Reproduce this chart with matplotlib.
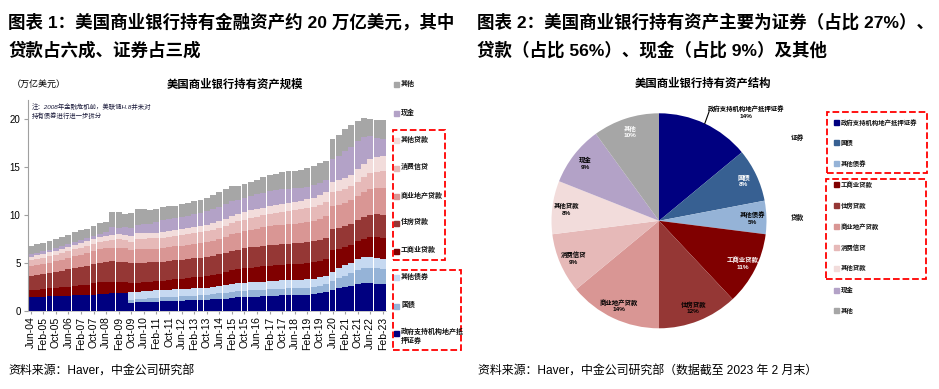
import numpy as np
import matplotlib
matplotlib.use("Agg")
from matplotlib import pyplot as plt
from matplotlib.patches import Rectangle

plt.rcParams["font.family"] = ["Liberation Sans", "Noto Sans CJK SC", "DejaVu Sans"]

W, H = 939, 389

# one bar every 4 months, Jun-04 ... Feb-23 (x = months since Jun-04)
months = np.arange(0, 225, 4)
tick_labels = ["Jun-04", "Feb-05", "Oct-05", "Jun-06", "Feb-07", "Oct-07", "Jun-08",
               "Feb-09", "Oct-09", "Jun-10", "Feb-11", "Oct-11", "Jun-12", "Feb-13",
               "Oct-13", "Jun-14", "Feb-15", "Oct-15", "Jun-16", "Feb-17", "Oct-17",
               "Jun-18", "Feb-19", "Oct-19", "Jun-20", "Feb-21", "Oct-21", "Jun-22",
               "Feb-23"]

# trillion USD, stacked from bottom
mbs = [1.45, 1.47, 1.5, 1.52, 1.54, 1.56, 1.6, 1.62, 1.64, 1.66, 1.7, 1.73, 1.75,
       1.85, 1.88, 1.9,
       0.88, 0.9, 0.92, 0.95, 0.98, 1.0, 1.03, 1.06, 1.08, 1.1, 1.13, 1.15, 1.17,
       1.2, 1.25, 1.3, 1.38, 1.42, 1.45, 1.48, 1.5, 1.53, 1.56, 1.6, 1.63, 1.66,
       1.68, 1.7, 1.72, 1.76, 1.85, 1.95, 2.15, 2.35, 2.5, 2.65, 2.8, 2.9, 2.9,
       2.85, 2.8]
treasury = [0] * 16 + [
    0.3, 0.33, 0.36, 0.38, 0.4, 0.42, 0.44, 0.45, 0.46, 0.47, 0.48, 0.5, 0.52,
    0.55, 0.58, 0.6, 0.63, 0.65, 0.66, 0.67, 0.68, 0.69, 0.7, 0.7, 0.7, 0.7, 0.7,
    0.71, 0.72, 0.75, 0.8, 0.85, 1.0, 1.1, 1.2, 1.3, 1.45, 1.55, 1.6, 1.6, 1.6]
other_bonds = [0] * 16 + [
    0.8, 0.8, 0.8, 0.8, 0.78, 0.78, 0.77, 0.76, 0.76, 0.76, 0.76, 0.76, 0.76,
    0.76, 0.77, 0.78, 0.8, 0.8, 0.82, 0.83, 0.84, 0.85, 0.86, 0.87, 0.87, 0.87,
    0.86, 0.86, 0.86, 0.86, 0.87, 0.88, 0.95, 1.0, 1.05, 1.1, 1.15, 1.15, 1.1,
    1.05, 1.0]
ci_loans = [0.75, 0.77, 0.8, 0.83, 0.86, 0.9, 0.95, 1.0, 1.05, 1.1, 1.17, 1.25, 1.3,
            1.22, 1.17, 1.1, 0.95, 0.92, 0.9, 0.9, 0.92, 0.95, 0.98, 1.02, 1.06, 1.1,
            1.13, 1.16, 1.19, 1.22, 1.28, 1.35, 1.42, 1.47, 1.52, 1.55, 1.57, 1.58,
            1.59, 1.6, 1.61, 1.62, 1.63, 1.65, 1.68, 1.7, 1.72, 1.75, 2.3, 2.05, 1.95,
            1.85, 1.85, 1.95, 2.1, 2.2, 2.2]
resid_loans = [1.45, 1.5, 1.55, 1.6, 1.66, 1.72, 1.78, 1.84, 1.9, 1.96, 2.02, 2.07,
               2.1, 2.1, 2.1, 2.1, 2.05, 2.05, 2.05, 2.03, 2.02, 2.0, 2.0, 2.0, 2.0,
               2.0, 2.0, 2.0, 2.0, 2.02, 2.03, 2.04, 2.05, 2.07, 2.09, 2.1, 2.12,
               2.14, 2.15, 2.16, 2.17, 2.17, 2.17, 2.17, 2.17, 2.18, 2.18, 2.2, 2.2,
               2.2, 2.2, 2.22, 2.25, 2.3, 2.35, 2.38, 2.4]
cre_loans = [1.0, 1.03, 1.06, 1.1, 1.14, 1.18, 1.22, 1.26, 1.3, 1.34, 1.38, 1.4, 1.42,
             1.45, 1.47, 1.45, 1.42, 1.42, 1.4, 1.4, 1.4, 1.41, 1.42, 1.44, 1.46,
             1.48, 1.51, 1.54, 1.57, 1.6, 1.64, 1.68, 1.72, 1.76, 1.8, 1.84, 1.88,
             1.92, 1.96, 1.99, 2.02, 2.05, 2.08, 2.11, 2.14, 2.18, 2.22, 2.26, 2.3,
             2.33, 2.37, 2.42, 2.48, 2.55, 2.65, 2.73, 2.8]
consumer = [0.65, 0.66, 0.66, 0.67, 0.68, 0.68, 0.69, 0.7, 0.71, 0.72, 0.74, 0.76,
            0.78, 0.82, 0.85, 0.85, 0.84, 1.12, 1.12, 1.11, 1.1, 1.1, 1.1, 1.1, 1.1,
            1.1, 1.11, 1.11, 1.12, 1.13, 1.14, 1.15, 1.17, 1.18, 1.2, 1.23, 1.25,
            1.28, 1.3, 1.32, 1.34, 1.37, 1.39, 1.4, 1.42, 1.44, 1.46, 1.49, 1.5,
            1.46, 1.47, 1.48, 1.52, 1.58, 1.64, 1.7, 1.76, 1.8][:57]
other_loans = [0.35, 0.36, 0.37, 0.38, 0.39, 0.4, 0.41, 0.43, 0.45, 0.47, 0.49, 0.5,
               0.5, 0.5, 0.52, 0.52, 0.53, 0.55, 0.55, 0.56, 0.57, 0.58, 0.59, 0.6,
               0.61, 0.62, 0.63, 0.64, 0.65, 0.67, 0.7, 0.72, 0.75, 0.76, 0.77, 0.78,
               0.79, 0.8, 0.82, 0.83, 0.85, 0.87, 0.89, 0.91, 0.93, 0.95, 0.97, 1.0,
               1.1, 1.12, 1.15, 1.2, 1.28, 1.38, 1.48, 1.55, 1.6]
cash = [0.25, 0.26, 0.27, 0.28, 0.28, 0.29, 0.3, 0.31, 0.32, 0.33, 0.35, 0.37, 0.4,
        0.78, 0.7, 0.8, 0.9, 0.92, 0.92, 0.95, 1.15, 1.25, 1.25, 1.28, 1.3, 1.32,
        1.35, 1.4, 1.45, 1.48, 1.5, 1.5, 1.5, 1.5, 1.5, 1.52, 1.55, 1.55, 1.52, 1.5,
        1.48, 1.45, 1.4, 1.35, 1.3, 1.28, 1.3, 1.32, 2.4, 2.6, 2.8, 2.9, 2.9, 2.8,
        2.4, 2.0, 1.8]
other_assets = [0.9, 0.9, 0.89, 0.92, 0.95, 0.97, 1.0, 1.04, 1.03, 1.02, 1.05, 1.12,
                1.05, 1.58, 1.61, 1.38, 1.53, 1.59, 1.58, 1.42, 1.28, 1.31, 1.32,
                1.29, 1.37, 1.34, 1.4, 1.33, 1.36, 1.46, 1.5, 1.6, 1.57, 1.47, 1.46,
                1.48, 1.49, 1.64, 1.72, 1.71, 1.8, 1.82, 1.79, 1.82, 1.94, 1.98, 2.1,
                1.99, 2.05, 2.1, 2.3, 2.3, 2.15, 1.95, 1.8, 1.9, 2.0]

series_names = ["政府支持机构地产抵押证券", "国债", "其他债券", "工商业贷款", "住房贷款",
                "商业地产贷款", "消费信贷", "其他贷款", "现金", "其他"]
series_values = [mbs, treasury, other_bonds, ci_loans, resid_loans, cre_loans,
                 consumer, other_loans, cash, other_assets]
bar_colors = ["#000080", "#95B3D7", "#C6D9F1", "#800000", "#953735", "#D99694",
              "#E6B9B8", "#F2DCDB", "#B3A2C7", "#A6A6A6"]

# pie: Feb-23 structure, %
pie_shares = [14, 8, 5, 11, 12, 14, 9, 8, 9, 10]
pie_colors = ["#000080", "#376092", "#95B3D7", "#800000", "#953735", "#D99694",
              "#E6B9B8", "#F2DCDB", "#B3A2C7", "#A6A6A6"]
pie_text_colors = ["black", "white", "black", "white", "black", "black", "black",
                   "black", "black", "white"]


def fx(x):
    return x / W


def fy(y):
    return 1 - y / H


fig = plt.figure(figsize=(W / 100, H / 100), dpi=100)
fig.patch.set_facecolor("white")

# ---- titles and sources
title_kw = dict(fontsize=12.6, fontweight="bold", va="center", ha="left")
fig.text(fx(8), fy(22), "图表 1：美国商业银行持有金融资产约 20 万亿美元，其中", **title_kw)
fig.text(fx(8), fy(50), "贷款占六成、证券占三成", **title_kw)
fig.text(fx(477), fy(22), "图表 2：美国商业银行持有资产主要为证券（占比 27%）、", **title_kw)
fig.text(fx(477), fy(50), "贷款（占比 56%）、现金（占比 9%）及其他", **title_kw)
fig.text(fx(8), fy(372), "资料来源：Haver，中金公司研究部", fontsize=8.6, va="center")
fig.text(fx(478), fy(372), "资料来源：Haver，中金公司研究部（数据截至 2023 年 2 月末）",
         fontsize=8.6, va="center")

# ---- left: stacked bars
ax = fig.add_axes([fx(27.5), fy(311), fx(386) - fx(27.5), fy(100) - fy(311)])
bottom = np.zeros(len(months))
for vals, color in zip(series_values, bar_colors):
    vals = np.array(vals, dtype=float)
    ax.bar(months, vals, width=3.75, bottom=bottom, color=color, linewidth=0)
    bottom += vals
ax.set_xlim(-2, 226)
ax.set_ylim(0, 22)
ax.set_yticks([0, 5, 10, 15, 20])
ax.set_xticks(months[::2])
ax.set_xticklabels(tick_labels, rotation=90, fontsize=7.5)
ax.tick_params(axis="y", labelsize=7, length=3, color="#A0A0A0", pad=2)
ax.tick_params(axis="x", length=2, color="#A0A0A0", pad=2)
for s in ["top", "right"]:
    ax.spines[s].set_visible(False)
ax.spines["left"].set_color("#A0A0A0")
ax.spines["bottom"].set_color("#C0C0C0")
ax.spines["bottom"].set_linewidth(0.6)

fig.text(fx(12), fy(84), "（万亿美元）", fontsize=6.5, va="center")
fig.text(fx(235), fy(84), "美国商业银行持有资产规模", fontsize=8.2, fontweight="bold",
         ha="center", va="center")
fig.text(fx(32), fy(103), "注：2008年金融危机前，美联储H.8并未对\n持有债券进行进一步拆分",
         fontsize=4.6, style="italic", va="top", color="#1A1A3A", linespacing=1.3)

# left legend (top to bottom)
small_kw = dict(fontweight="bold", color="#111111")
left_legend_y = [84.3, 112.7, 140, 167.7, 196, 222.7, 250.7, 277.3, 305.7, 332.7]
for name, color, y in zip(series_names[::-1], bar_colors[::-1], left_legend_y):
    fig.add_artist(Rectangle((fx(393.5), fy(y + 3)), 5 / W, 5 / H, color=color,
                             transform=fig.transFigure))
    if name == "政府支持机构地产抵押证券":
        fig.text(fx(401), fy(y - 4), "政府支持机构地产抵\n押证券", fontsize=5,
                 va="top", linespacing=1.25, **small_kw)
    else:
        fig.text(fx(401), fy(y), name, fontsize=5, va="center", **small_kw)

for (x0, y0, x1, y1) in [(393, 130, 445, 260), (393, 269.5, 461, 350)]:
    fig.add_artist(Rectangle((fx(x0), fy(y1)), (x1 - x0) / W, (y1 - y0) / H,
                             fill=False, edgecolor="#FF0000", linestyle="--",
                             linewidth=1.3, transform=fig.transFigure))

# ---- right: pie
R = 107.5
cx, cy = 659, 220.8
half = 1.25 * R
pax = fig.add_axes([fx(cx - half), fy(cy + half), 2 * half / W, 2 * half / H])
wedges, _ = pax.pie(pie_shares, colors=pie_colors, startangle=90, counterclock=False,
                    radius=1, wedgeprops=dict(linewidth=0))
pax.set_xlim(-1.25, 1.25)
pax.set_ylim(-1.25, 1.25)
pax.set_aspect("equal")
pax.axis("off")

for i, (w, name, share, tc) in enumerate(zip(wedges, series_names, pie_shares,
                                               pie_text_colors)):
    ang = np.deg2rad((w.theta1 + w.theta2) / 2)
    label = f"{name}\n{share}%"
    if i == 0:
        x0, y0 = np.cos(ang), np.sin(ang)
        pax.plot([x0, x0 + 0.04], [y0, y0 + 0.11], color="black", lw=0.8)
        pax.text(0.81, 1.01, label, fontsize=4.6, ha="center", va="center",
                 color="black", linespacing=1.4, fontweight="bold")
    else:
        pax.text(0.87 * np.cos(ang), 0.87 * np.sin(ang), label, fontsize=4.6,
                 ha="center", va="center", color=tc, linespacing=1.4,
                 fontweight="bold")

fig.text(fx(703), fy(83.5), "美国商业银行持有资产结构", fontsize=8.2, fontweight="bold",
         ha="center", va="center")

# right legend
right_legend_y = [122.3, 142.7, 163.3, 185, 205.7, 226.7, 247.3, 268.3, 290, 310.7]
for name, color, y in zip(series_names, pie_colors, right_legend_y):
    fig.add_artist(Rectangle((fx(834), fy(y + 2.5)), 5 / W, 5 / H, color=color,
                             transform=fig.transFigure))
    fig.text(fx(841), fy(y), name, fontsize=4.6, va="center", **small_kw)
fig.text(fx(797), fy(138.3), "证券", fontsize=4.8, ha="center", va="center", **small_kw)
fig.text(fx(797), fy(218.3), "贷款", fontsize=4.8, ha="center", va="center", **small_kw)
for (x0, y0, x1, y1) in [(826.5, 112, 926.5, 172.5), (825.5, 178.5, 925.5, 278.5)]:
    fig.add_artist(Rectangle((fx(x0), fy(y1)), (x1 - x0) / W, (y1 - y0) / H,
                             fill=False, edgecolor="#FF0000", linestyle="--",
                             linewidth=1.3, transform=fig.transFigure))

fig.savefig("out.png", dpi=100, facecolor="white")
